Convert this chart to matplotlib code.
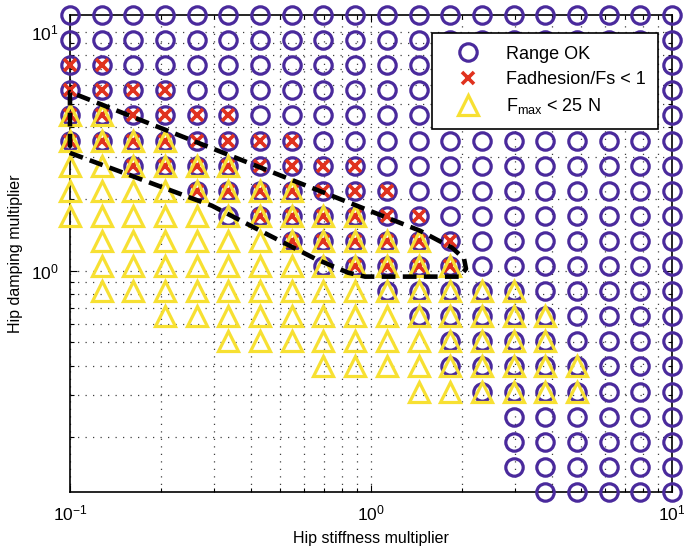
import numpy as np
import matplotlib
matplotlib.use('Agg')
import matplotlib.pyplot as plt
from matplotlib.lines import Line2D

plt.rcParams['font.family'] = ['Liberation Sans', 'DejaVu Sans']
plt.rcParams['mathtext.fontset'] = 'custom'
plt.rcParams['mathtext.rm'] = 'Liberation Sans'
plt.rcParams['mathtext.it'] = 'Liberation Sans:italic'
plt.rcParams['mathtext.bf'] = 'Liberation Sans:bold'

# grid of multipliers (20 x 20, log spaced)
stiffness = np.logspace(-1, 1, 20)
damping = np.logspace(np.log10(0.118), np.log10(11.8), 20)

# first column index with "Range OK" for each damping row (all go to the last column)
ok_start = [15, 14, 14, 14, 13, 12, 12, 11, 10, 8, 7, 5, 4, 2, 0, 0, 0, 0, 0, 0]

# column ranges (first, last) per damping row, None = no point
adhesion_rows = [None, None, None, None, None, None, None, None, None,
                 (9, 12), (7, 12), (6, 11), (4, 10), (2, 9), (0, 7), (0, 5),
                 (0, 3), (0, 1), None, None]
fmax_rows = [None, None, None, None, (11, 16), (8, 16), (5, 15), (3, 15),
             (1, 14), (1, 12), (1, 11), (0, 9), (0, 7), (0, 5), (0, 3), (0, 1),
             None, None, None, None]

# boundary of the region meeting all criteria
bound_x = [0.1, 0.2964, 0.4619, 0.6516, 0.8386, 0.955, 1.976, 2.068, 2.037,
           1.858, 1.455, 0.1, 0.1]
bound_y = [3.117, 1.871, 1.401, 1.123, 0.981, 0.944, 0.944, 1.019, 1.123,
           1.248, 1.470, 5.61, 3.117]

purple = '#4a2a9c'
red = '#e0321e'
yellow = '#f7e032'


def collect(rows):
    xs, ys = [], []
    for j, r in enumerate(rows):
        if r is None:
            continue
        for i in range(r[0], r[1] + 1):
            xs.append(stiffness[i])
            ys.append(damping[j])
    return xs, ys


ok_x, ok_y = collect([(s, 19) for s in ok_start])
ad_x, ad_y = collect(adhesion_rows)
fm_x, fm_y = collect(fmax_rows)

fig = plt.figure(figsize=(6.84, 5.52), dpi=100)
ax = fig.add_axes([0.1023, 0.1087, 0.8802, 0.8641])

ax.plot(ok_x, ok_y, ls='none', marker='o', ms=12.5, mew=2.3, mfc='none',
        mec=purple, clip_on=False, zorder=3)
ax.plot(ad_x, ad_y, ls='none', marker='x', ms=8.5, mew=2.6, color=red,
        clip_on=False, zorder=4)
ax.plot(fm_x, fm_y, ls='none', marker='^', ms=15, mew=2.3, mfc='none',
        mec=yellow, clip_on=False, zorder=5)
ax.plot(bound_x, bound_y, color='k', lw=3.3, ls=(0, (3, 1.6)),
        solid_capstyle='butt', clip_on=False, zorder=6)

ax.set_xscale('log')
ax.set_yscale('log')
ax.set_xlim(0.1, 10)
ax.set_ylim(damping[0], damping[-1])

ax.grid(True, which='both', ls=(0, (1, 5)), color='0.25', lw=0.9)
ax.set_axisbelow(True)
ax.tick_params(which='both', direction='in', top=True, right=True,
               labelsize=12.5, pad=8, width=0.8)
ax.tick_params(which='major', length=5)
ax.tick_params(which='minor', length=3)
for s in ax.spines.values():
    s.set_linewidth(1.2)

ax.set_xlabel('Hip stiffness multiplier', fontsize=11.5, labelpad=6)
ax.set_ylabel('Hip damping multiplier', fontsize=11.5, labelpad=6)

handles = [
    Line2D([], [], ls='none', marker='o', ms=12.5, mew=2.3, mfc='none', mec=purple),
    Line2D([], [], ls='none', marker='x', ms=8.5, mew=2.6, color=red),
    Line2D([], [], ls='none', marker='^', ms=15, mew=2.3, mfc='none', mec=yellow),
]
labels = ['Range OK', 'Fadhesion/Fs < 1', r'F$_{\rm max}$ < 25 N']
leg = ax.legend(handles, labels, loc='upper right', bbox_to_anchor=(0.977, 0.962),
                fontsize=13, frameon=True, fancybox=False, framealpha=1,
                edgecolor='k', borderpad=0.7, labelspacing=0.45,
                handletextpad=0.8, handlelength=2.6, borderaxespad=0)
leg.get_frame().set_linewidth(1.2)
leg.set_zorder(10)

fig.savefig('out.png', dpi=100)
